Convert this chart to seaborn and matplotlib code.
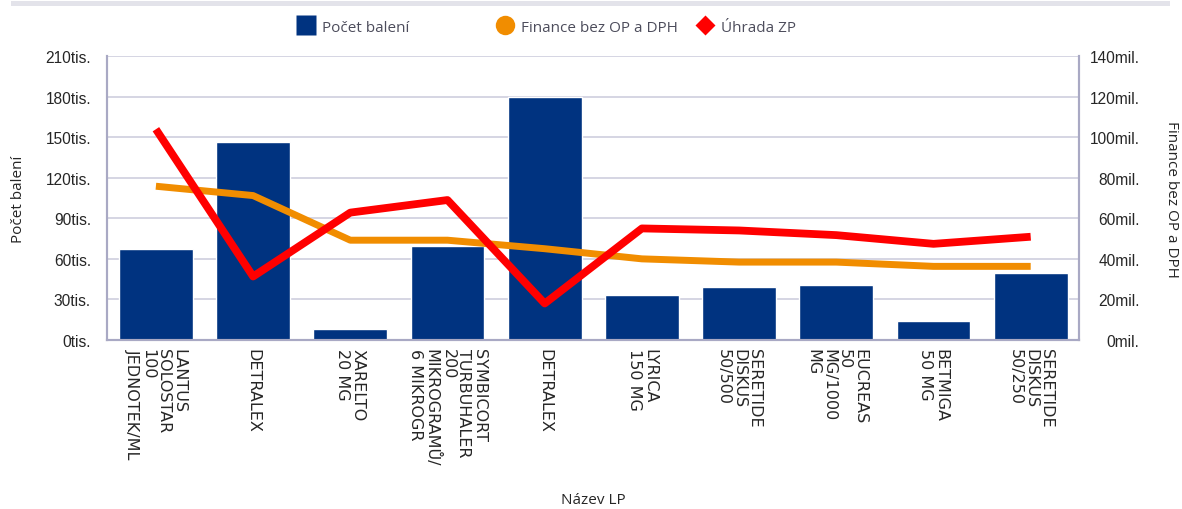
import numpy as np
import pandas as pd
import matplotlib
matplotlib.use("Agg")
import matplotlib.pyplot as plt
import seaborn as sns
from matplotlib.lines import Line2D
from matplotlib.patches import Rectangle
from matplotlib.ticker import FuncFormatter, MultipleLocator

# data
nazvy = ["LANTUS\nSOLOSTAR\n100\nJEDNOTEK/ML", "DETRALEX", "XARELTO\n20 MG",
         "SYMBICORT\nTURBUHALER\n200\nMIKROGRAMŮ/\n6 MIKROGR", "DETRALEX",
         "LYRICA\n150 MG", "SERETIDE\nDISKUS\n50/500", "EUCREAS\n50\nMG/1000\nMG",
         "BETMIGA\n50 MG", "SERETIDE\nDISKUS\n50/250"]
pocet_baleni = [67200, 146500, 8400, 69700, 180000, 33300, 39200, 40600, 14000, 49500]
finance = [75.8e6, 71.2e6, 49.2e6, 49.2e6, 45.0e6, 40.0e6, 38.4e6, 38.4e6, 36.3e6, 36.3e6]
uhrada = [103.9e6, 31.3e6, 62.8e6, 69.0e6, 18.0e6, 55.0e6, 54.0e6, 51.7e6, 47.4e6, 50.9e6]

df = pd.DataFrame({"poradi": range(len(nazvy)), "nazev": nazvy, "pocet": pocet_baleni,
                   "finance": finance, "uhrada": uhrada})

blue = "#003380"
orange = "#f18d00"
red = "#ff0000"
grid_c = "#d2d2e0"
spine_c = "#a9a9c4"

sns.set_style("white")
plt.rcParams["font.family"] = ["Open Sans", "DejaVu Sans"]

W, H = 1182, 510
fig = plt.figure(figsize=(W / 100, H / 100), dpi=100)
L, R, T, B = 107.3, 1079.3, 57, 341
ax = fig.add_axes([L / W, (H - B) / H, (R - L) / W, (B - T) / H])

# grey band at the very top
fig.patches.append(Rectangle((11 / W, 1 - 7 / H), (1170 - 11) / W, 5 / H,
                             transform=fig.transFigure, color="#e3e3ea", lw=0))

sns.barplot(data=df, x="poradi", y="pocet", color=blue, saturation=1, width=0.76,
            ax=ax, zorder=2)

ax2 = ax.twinx()
sns.lineplot(data=df, x="poradi", y="finance", color=orange, linewidth=5,
             solid_capstyle="butt", ax=ax2)
sns.lineplot(data=df, x="poradi", y="uhrada", color=red, linewidth=5.6,
             solid_capstyle="butt", ax=ax2)

ax.set_xlim(-0.5, len(nazvy) - 0.5)
ax.set_ylim(0, 210000)
ax2.set_ylim(0, 140e6)
ax.yaxis.set_major_locator(MultipleLocator(30000))
ax2.yaxis.set_major_locator(MultipleLocator(20e6))
ax.yaxis.set_major_formatter(FuncFormatter(lambda v, p: f"{v / 1000:.0f}tis."))
ax2.yaxis.set_major_formatter(FuncFormatter(lambda v, p: f"{v / 1e6:.0f}mil."))

ax.grid(axis="y", color=grid_c, lw=1.3)
ax.grid(axis="x", visible=False)
ax.set_axisbelow(True)

ax.set_xticks(range(len(nazvy)))
ax.set_xticklabels(nazvy, rotation=270, ha="center", va="top", ma="left",
                   fontsize=11.5, family="DejaVu Sans", linespacing=1.05)
ax.tick_params(axis="x", length=0, pad=6)
ax.tick_params(axis="y", length=0, pad=11.7, labelsize=11.2)
ax2.tick_params(axis="y", length=0, pad=43.5, labelsize=11.2)
for lab in ax.get_yticklabels() + ax2.get_yticklabels():
    lab.set_family("Liberation Sans")
for lab in ax2.get_yticklabels():
    lab.set_ha("right")

for a in (ax, ax2):
    a.spines["top"].set_visible(False)
    for s in ("left", "right", "bottom"):
        a.spines[s].set_color(spine_c)
        a.spines[s].set_linewidth(1.5)

ax.set_xlabel("Název LP", fontsize=11)
ax.xaxis.set_label_coords(0.5, (B - 501) / (B - T))
ax.xaxis.label.set_va("center")
ax.set_ylabel("Počet balení", fontsize=11, va="center")
ax.yaxis.set_label_coords((19 - L) / (R - L), 0.5)
ax2.set_ylabel("Finance bez OP a DPH", fontsize=11, rotation=270, va="center", ha="center")
ax2.yaxis.set_label_coords((1171 - L) / (R - L), 0.5)

# legend: three entries with fixed pitch like the original
handles = [
    (Line2D([], [], marker="s", ls="none", markerfacecolor=blue, markeredgecolor="none", markersize=14), "Počet balení", 298),
    (Line2D([], [], marker="o", ls="none", markerfacecolor=orange, markeredgecolor="none", markersize=14), "Finance bez OP a DPH", 497),
    (Line2D([], [], marker="D", ls="none", markerfacecolor=red, markeredgecolor="none", markersize=10.2), "Úhrada ZP", 697),
]
for h, lab, x in handles:
    fig.legend([h], [lab], loc="center left", bbox_to_anchor=(x / W, 1 - 28 / H),
               frameon=False, fontsize=11, labelcolor="#4d4d5c", borderpad=0,
               borderaxespad=0, handlelength=1.0, handletextpad=0.6)

fig.savefig("out.png", dpi=100)
